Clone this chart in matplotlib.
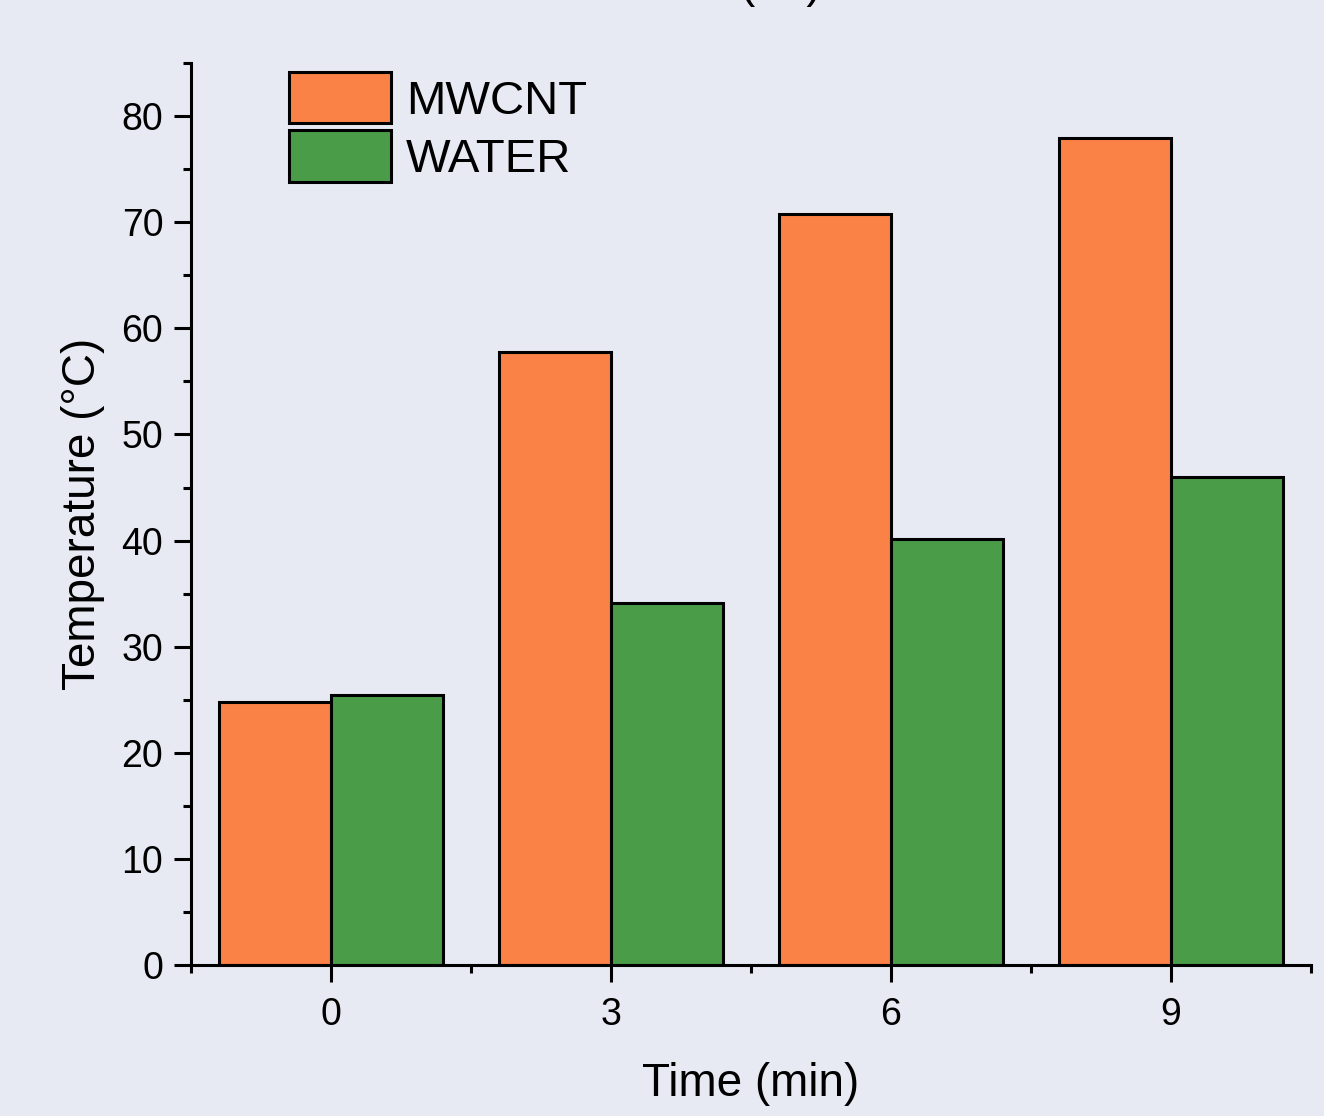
import numpy as np
import matplotlib.pyplot as plt
from matplotlib.ticker import MultipleLocator

# Data
time_min = [0, 3, 6, 9]
mwcnt = [24.8, 57.8, 70.8, 77.9]
water = [25.4, 34.1, 40.1, 46.0]
labels = ['MWCNT', 'WATER']

BG = '#e7eaf3'
ORANGE = '#fa8246'
GREEN = '#4a9c48'

plt.rcParams['font.family'] = ['Liberation Sans', 'DejaVu Sans']

fig = plt.figure(figsize=(13.24, 11.16), dpi=100, facecolor=BG)
ax = fig.add_axes([0.1443, 0.1353, 0.9902 - 0.1443, 0.9435 - 0.1353])
ax.set_facecolor(BG)

x = np.array(time_min, dtype=float)
w = 1.2
ax.bar(x - w / 2, mwcnt, width=w, color=ORANGE, edgecolor='black', linewidth=2.2, label=labels[0])
ax.bar(x + w / 2, water, width=w, color=GREEN, edgecolor='black', linewidth=2.2, label=labels[1])

ax.set_xlim(-1.5, 10.5)
ax.set_ylim(0, 85)
ax.set_xticks(time_min)
ax.xaxis.set_minor_locator(MultipleLocator(1.5))
ax.yaxis.set_major_locator(MultipleLocator(10))
ax.yaxis.set_minor_locator(MultipleLocator(5))

for side in ['top', 'right']:
	ax.spines[side].set_visible(False)
for side in ['left', 'bottom']:
	ax.spines[side].set_linewidth(2.2)

ax.tick_params(which='major', length=12, width=2.2, labelsize=27)
ax.tick_params(axis='x', which='major', pad=11)
ax.tick_params(axis='y', which='major', pad=8)
ax.tick_params(which='minor', length=6, width=2.2)

ax.set_xlabel('Time (min)', fontsize=33, labelpad=21)
ax.set_ylabel('Temperature (°C)', fontsize=33, labelpad=12)

# legend without frame, top left
leg = fig.legend(loc='upper left', bbox_to_anchor=(289 / 1324, 1 - 72 / 1116), frameon=False,
				 fontsize=34, handlelength=2.17, handleheight=1.3, labelspacing=0.14,
				 handletextpad=0.3, borderpad=0, borderaxespad=0)
for patch in leg.get_patches():
	patch.set_linewidth(2.2)

# title is cut off at the top of the picture
fig.text(781 / 1324, 1.0025, '( a )', ha='center', va='baseline', fontsize=33)

fig.savefig('out.png', dpi=100, facecolor=BG)
